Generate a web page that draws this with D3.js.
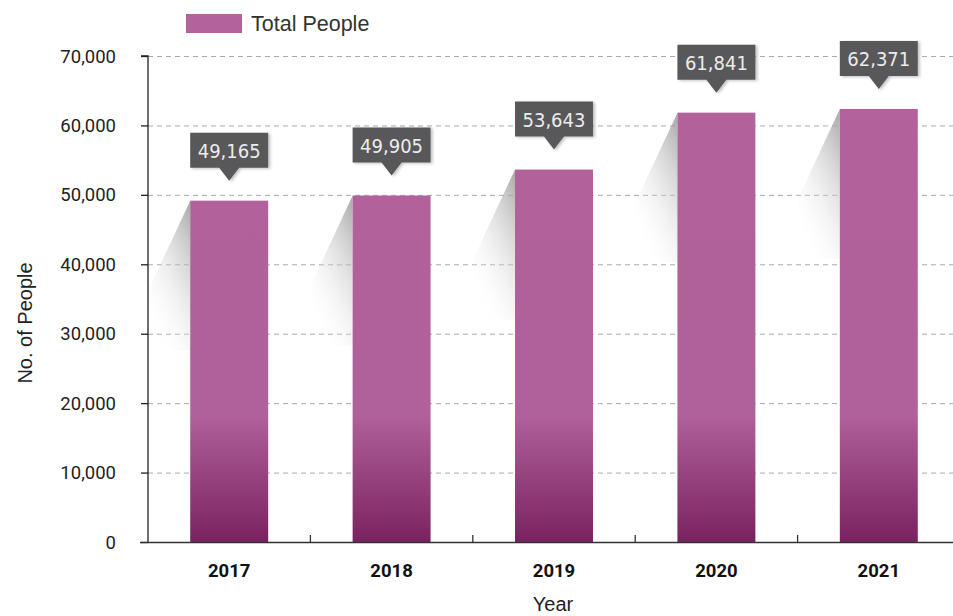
<!DOCTYPE html>
<html><head><meta charset="utf-8">
<script src="https://cdn.jsdelivr.net/npm/d3@7"></script>
<style>body{margin:0;background:#fff}svg{display:block}</style>
</head><body>
<svg id="c" width="953" height="616"></svg>
<script>
const years = ["2017","2018","2019","2020","2021"];
const totalPeople = [49165, 49905, 53643, 61841, 62371];
const yTicks = [0,10000,20000,30000,40000,50000,60000,70000];
const seriesName = "Total People";

const svg = d3.select("#c");
const W = 953, H = 616;
const m = {left:148, right:-7, top:56, bottom:74};
const x = d3.scaleBand().domain(years).range([m.left, W - m.right]).paddingInner(0.52).paddingOuter(0.26);
const y = d3.scaleLinear().domain([0,70000]).range([H - m.bottom, m.top]);
const fmt = d3.format(",");

const defs = svg.append("defs");
const bg = defs.append("linearGradient").attr("id","barG").attr("x1",0).attr("x2",0)
  .attr("gradientUnits","userSpaceOnUse").attr("y1", y(70000)).attr("y2", y(0));
bg.append("stop").attr("offset","0").attr("stop-color","#b3629b");
bg.append("stop").attr("offset","0.74").attr("stop-color","#b0609a");
bg.append("stop").attr("offset","1").attr("stop-color","#7a2260");
const sg = defs.append("linearGradient").attr("id","shG").attr("x1",0.9).attr("y1",0).attr("x2",0.3).attr("y2",1);
sg.append("stop").attr("offset","0").attr("stop-color","#9a9a9a").attr("stop-opacity",0.8);
sg.append("stop").attr("offset","1").attr("stop-color","#ffffff").attr("stop-opacity",0);
const f = defs.append("filter").attr("id","bs").attr("x","-20%").attr("y","-20%").attr("width","150%").attr("height","150%");
f.append("feDropShadow").attr("dx",2).attr("dy",1).attr("stdDeviation",1.5).attr("flood-color","#000").attr("flood-opacity",0.25);

// gridlines
svg.append("g").selectAll("line").data(yTicks.filter(d=>d>0)).join("line")
  .attr("x1", m.left).attr("x2", W).attr("y1", d=>y(d)+0.5).attr("y2", d=>y(d)+0.5)
  .attr("stroke","#aaa").attr("stroke-width",1).attr("stroke-dasharray","5,4");

// shadows
svg.append("g").selectAll("path").data(totalPeople).join("path")
  .attr("d",(d,i)=>{
    const x0 = x(years[i]), t = y(d);
    return `M${x0},${t} L${x0-42},${t+90} L${x0-42},${t+150} L${x0},${t+150} Z`;
  })
  .attr("fill","url(#shG)");

// bars
svg.append("g").selectAll("rect").data(totalPeople).join("rect")
  .attr("x",(d,i)=>x(years[i])).attr("width",x.bandwidth())
  .attr("y",d=>y(d)).attr("height",d=>y(0)-y(d))
  .attr("fill","url(#barG)");

// y axis
const ya = svg.append("g").attr("transform",`translate(${m.left},0)`)
  .call(d3.axisLeft(y).tickValues(yTicks).tickFormat(fmt).tickSize(7).tickPadding(25));
ya.select(".domain").attr("stroke","#222").attr("stroke-width",1.3).attr("d",`M-7,${y(70000)}H0V${y(0)}`);
ya.selectAll(".tick line").attr("stroke","#222").attr("stroke-width",1.3);
ya.selectAll("text").attr("font-family","Roboto, sans-serif").attr("font-size",18.5).attr("fill","#222").attr("dy","0.33em");

// x axis
const xa = svg.append("g").attr("transform",`translate(0,${y(0)})`);
xa.append("line").attr("x1",140).attr("x2",W).attr("y1",0.5).attr("y2",0.5).attr("stroke","#333").attr("stroke-width",1.3);
const step = x.step();
xa.selectAll("line.tk").data(years.slice(1)).join("line").attr("class","tk")
  .attr("x1",d=>x(d)-step*x.paddingInner()/2).attr("x2",d=>x(d)-step*x.paddingInner()/2)
  .attr("y1",0).attr("y2",-7).attr("stroke","#333").attr("stroke-width",1.3);
xa.selectAll("text").data(years).join("text")
  .attr("x",d=>x(d)+x.bandwidth()/2).attr("y",35)
  .attr("text-anchor","middle").attr("font-family","Roboto, sans-serif").attr("font-weight","bold")
  .attr("font-size",18.5).attr("fill","#111").text(d=>d);

// axis titles
svg.append("text").attr("x",553).attr("y",611).attr("text-anchor","middle")
  .attr("font-family","'Liberation Sans', sans-serif").attr("font-size",20).attr("fill","#222").text("Year");
svg.append("text").attr("transform",`translate(32,${(y(0)+y(70000))/2+24}) rotate(-90)`).attr("text-anchor","middle")
  .attr("font-family","'Liberation Sans', sans-serif").attr("font-size",20).attr("fill","#222").text("No. of People");

// callouts
const cg = svg.append("g").selectAll("g").data(totalPeople).join("g")
  .attr("transform",(d,i)=>`translate(${x(years[i])},${y(d)-20})`);
cg.append("path").attr("filter","url(#bs)")
  .attr("d",()=>{const w=x.bandwidth(), c=w/2;
    return `M0,-48 H${w} V-13 H${c+10} L${c},0 L${c-10},-13 H0 Z`;})
  .attr("fill","#59585a");
cg.append("text").attr("x",x.bandwidth()/2).attr("y",-23).attr("text-anchor","middle")
  .attr("font-family","'DejaVu Sans Condensed','Roboto', sans-serif").attr("font-size",20)
  .attr("fill","#ececec").text(d=>fmt(d));

// legend
svg.append("rect").attr("x",186).attr("y",14).attr("width",56).attr("height",19).attr("fill","#b3629b");
svg.append("text").attr("x",251).attr("y",31).attr("font-family","'Liberation Sans', sans-serif")
  .attr("font-size",21.5).attr("fill","#333").text(seriesName);
</script>
</body></html>
